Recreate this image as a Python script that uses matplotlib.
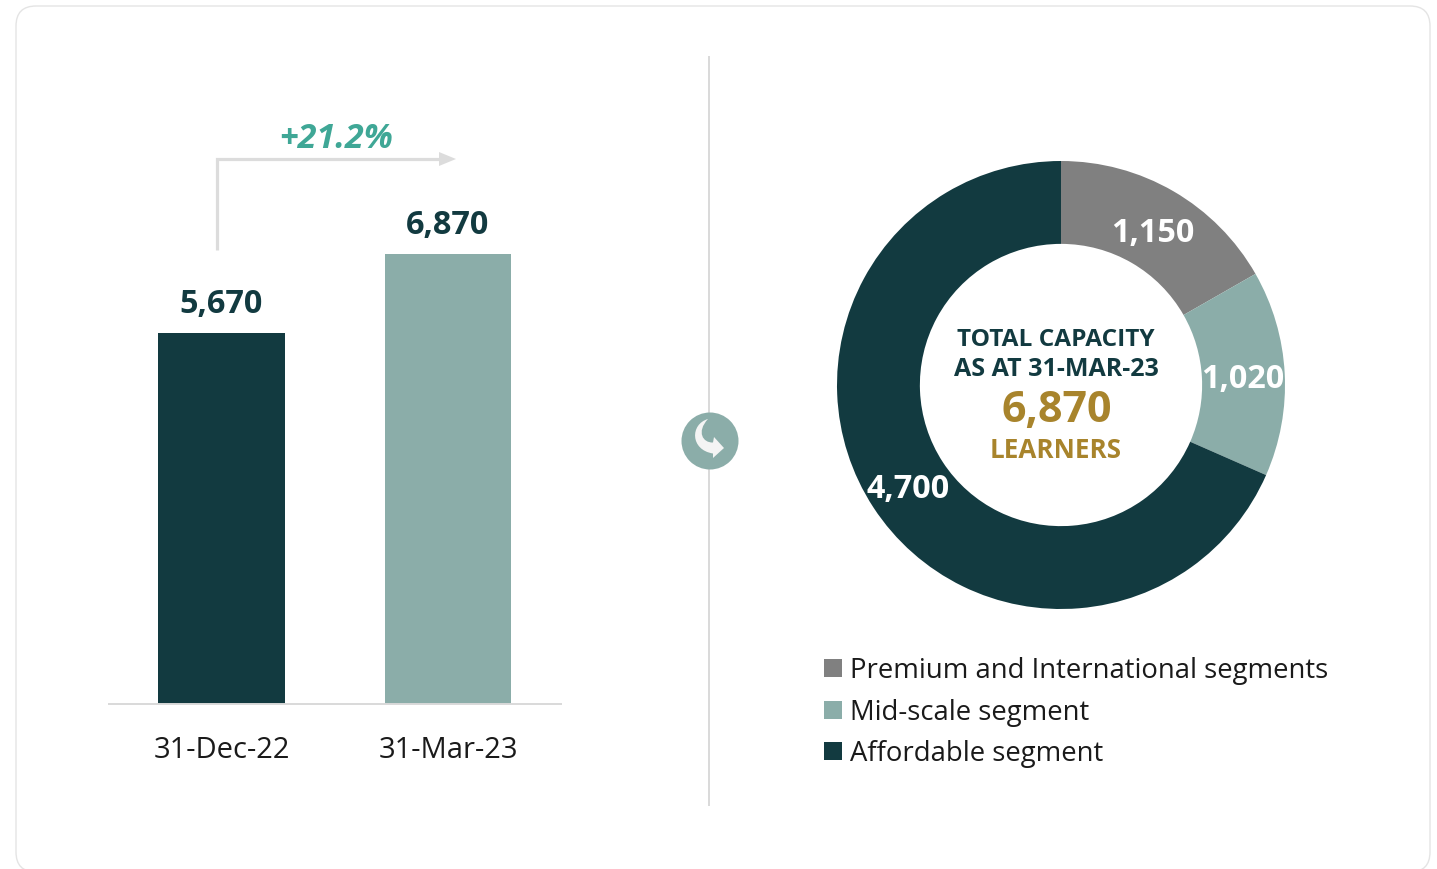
import matplotlib
matplotlib.use("Agg")
import matplotlib.pyplot as plt
from matplotlib.patches import FancyBboxPatch, Circle, Polygon, PathPatch, Rectangle
from matplotlib.path import Path

plt.rcParams["font.family"] = ["Open Sans", "DejaVu Sans"]

dates = ["31-Dec-22", "31-Mar-23"]
capacity = [5670, 6870]
capacity_labels = ["5,670", "6,870"]

segments = ["Premium and International segments", "Mid-scale segment", "Affordable segment"]
segment_values = [1150, 1020, 4700]
segment_labels = ["1,150", "1,020", "4,700"]

dark = "#123A40"
mid = "#8BADA9"
grey = "#808080"
gold = "#A8842C"
teal = "#3FA796"
line = "#DCDCDC"

W, H = 1437, 869
fig = plt.figure(figsize=(W / 100, H / 100), dpi=100)

# background axes in pixel coordinates, for the card and the decorations
bg = fig.add_axes([0, 0, 1, 1])
bg.set_xlim(0, W)
bg.set_ylim(H, 0)
bg.axis("off")
bg.add_patch(FancyBboxPatch((34, 24), 1378, 830, boxstyle="round,pad=18,rounding_size=20",
                            fc="white", ec="#E4E4E4", lw=1.0, clip_on=True))
bg.plot([709, 709], [56, 806], c="#D9D9D9", lw=1.4, solid_capstyle="butt")

# growth arrow
bg.plot([217, 217, 440], [250, 159, 159], c=line, lw=2.3, solid_joinstyle="miter", solid_capstyle="butt")
bg.add_patch(Polygon([[439, 152], [456, 159], [439, 166]], fc=line, ec="none"))
bg.text(336, 139, "+21.2%", color=teal, fontsize=24.5, fontweight="bold", style="italic",
        ha="center", va="center")

# round icon on the divider
bg.add_patch(Circle((710, 441), 28.5, fc=mid, ec="none", zorder=3))
verts = [(708, 419), (690, 424), (690, 450), (713, 453.5),
         (713, 458), (724, 448), (714, 437), (713, 442.5),
         (703, 443), (696, 432), (708, 419)]
codes = [Path.MOVETO, Path.CURVE4, Path.CURVE4, Path.CURVE4,
         Path.LINETO, Path.LINETO, Path.LINETO, Path.LINETO,
         Path.CURVE4, Path.CURVE4, Path.CURVE4]
bg.add_patch(PathPatch(Path(verts, codes), fc="#F4F4F4", ec="none", zorder=4))

# bars
ax = fig.add_axes([108 / W, 1 - 704 / H, 454 / W, 450 / H])
ax.patch.set_alpha(0)
ax.bar(range(2), capacity, width=0.56, color=[dark, mid])
ax.set_xlim(-0.501, 1.503)
ax.set_ylim(0, 6870)
ax.set_yticks([])
ax.set_xticks(range(2))
ax.set_xticklabels(dates, fontsize=21, color="#1A1A1A")
ax.tick_params(axis="x", length=0, pad=23)
for s in ["top", "left", "right"]:
    ax.spines[s].set_visible(False)
ax.spines["bottom"].set_color("#D9D9D9")
ax.spines["bottom"].set_linewidth(1.4)
ax.spines["bottom"].set_capstyle("butt")
for i, v in enumerate(capacity):
    ax.annotate(capacity_labels[i], (i, v), xytext=(0, 28), textcoords="offset pixels",
                ha="center", va="center", fontsize=23.3, fontweight="bold", color=dark,
                annotation_clip=False)

# donut
ax2 = fig.add_axes([837 / W, 1 - 609 / H, 448 / W, 448 / H])
ax2.patch.set_alpha(0)
ax2.pie(segment_values, colors=[grey, mid, dark], startangle=90, counterclock=False, radius=1,
        wedgeprops=dict(width=0.37, linewidth=0))
ax2.set_xlim(-1, 1)
ax2.set_ylim(-1, 1)
ax2.set_aspect("equal")

fg = fig.add_axes([0, 0, 1, 1])
fg.set_xlim(0, W)
fg.set_ylim(H, 0)
fg.axis("off")
label_pos = [(1153, 233), (1243, 380), (908, 490)]
for (x, y), s in zip(label_pos, segment_labels):
    fg.text(x, y, s, color="white", fontsize=23.3, fontweight="bold", ha="center", va="center")

fg.text(1056, 340, "TOTAL CAPACITY", color=dark, fontsize=17.6, fontweight="bold", ha="center", va="center")
fg.text(1056, 369, "AS AT 31-MAR-23", color=dark, fontsize=18, fontweight="bold", ha="center", va="center")
fg.text(1057, 411, "6,870", color=gold, fontsize=31, fontweight="bold", ha="center", va="center")
fg.text(1056, 450, "LEARNERS", color=gold, fontsize=18.7, fontweight="bold", ha="center", va="center")

# legend drawn by hand to keep the spacing of the original
legend_y = [668, 710, 751]
for y, s, c in zip(legend_y, segments, [grey, mid, dark]):
    fg.add_patch(Rectangle((824, y - 9), 18, 18, fc=c, ec="none"))
    fg.text(850, y + 3, s, color="#1A1A1A", fontsize=19.8, ha="left", va="center")

fig.savefig("out.png", dpi=100)
